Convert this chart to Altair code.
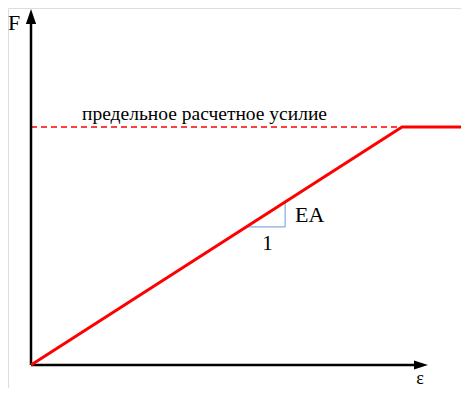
import altair as alt
import pandas as pd

# ---- data (schematic units: strain eps, force F) ----
eps_curve = [0.0, 1.0, 1.2]
F_curve = [0.0, 1.0, 1.0]
F_limit = 1.0
eps_limit = 1.0
limit_label = "предельное расчетное усилие"
slope_run = [0.58, 0.685]      # eps from -> to (horizontal leg)
slope_rise = [0.58, 0.685]     # F from -> to (vertical leg)
x_axis_end = 1.07
y_axis_end = 1.496
label_F = "F"
label_eps = "ε"
label_EA = "EA"
label_one = "1"

xs = alt.Scale(domain=[-0.062, 1.159], nice=False, zero=False)
ys = alt.Scale(domain=[-0.0966, 1.5], nice=False, zero=False)

def X(f="x"):
    return alt.X(f"{f}:Q", scale=xs, axis=None)

def Y(f="y"):
    return alt.Y(f"{f}:Q", scale=ys, axis=None)

SERIF = "Liberation Serif"

# axes
yaxis = alt.Chart(pd.DataFrame({"x": [0.0], "y": [0.0], "y2": [y_axis_end - 0.03]})).mark_rule(
    color="black", strokeWidth=2.5).encode(x=X(), y=Y(), y2="y2:Q")
xaxis = alt.Chart(pd.DataFrame({"x": [0.0], "x2": [x_axis_end - 0.02], "y": [0.0]})).mark_rule(
    color="black", strokeWidth=2.5).encode(x=X(), x2="x2:Q", y=Y())
yarrow = alt.Chart(pd.DataFrame({"x": [0.0], "y": [y_axis_end]})).mark_point(
    shape="M0,0L-0.68,2L0.68,2Z", size=225, filled=True, color="black", opacity=1, strokeWidth=0
).encode(x=X(), y=Y())
xarrow = alt.Chart(pd.DataFrame({"x": [x_axis_end], "y": [0.0]})).mark_point(
    shape="M0,0L-2,-0.64L-2,0.64Z", size=196, filled=True, color="black", opacity=1, strokeWidth=0
).encode(x=X(), y=Y())

# limit dashed line
dashed = alt.Chart(pd.DataFrame({"x": [0.0], "x2": [eps_limit], "y": [F_limit]})).mark_rule(
    color="#ff0000", strokeWidth=1.5, strokeDash=[6, 4]).encode(x=X(), x2="x2:Q", y=Y())

# curve
curve = alt.Chart(pd.DataFrame({"x": eps_curve, "y": F_curve})).mark_line(
    color="#ff0000", strokeWidth=3).encode(x=X(), y=Y())

# slope triangle
tri_h = alt.Chart(pd.DataFrame({"x": [slope_run[0]], "x2": [slope_run[1]], "y": [slope_rise[0]]})).mark_rule(
    color="#7fb0e0", strokeWidth=1.2).encode(x=X(), x2="x2:Q", y=Y())
tri_v = alt.Chart(pd.DataFrame({"x": [slope_run[1]], "y": [slope_rise[0]], "y2": [slope_rise[1]]})).mark_rule(
    color="#7fb0e0", strokeWidth=1.2).encode(x=X(), y=Y(), y2="y2:Q")

# texts
texts = pd.DataFrame({
    "x": [0.4677, 0.7116, 0.6375, -0.0458, 1.0485],
    "y": [1.029, 0.601, 0.483, 1.4076, -0.078],
    "t": [limit_label, label_EA, label_one, label_F, label_eps],
    "align": ["center", "left", "center", "center", "center"],
    "size": [19.5, 22, 21, 22, 18],
})
tlayers = []
for _, r in texts.iterrows():
    tlayers.append(
        alt.Chart(pd.DataFrame([r])).mark_text(
            font=SERIF, fontSize=float(r["size"]), align=r["align"], baseline="alphabetic", color="black"
        ).encode(x=X(), y=Y(), text="t:N")
    )

chart = alt.layer(dashed, yaxis, xaxis, yarrow, xarrow, tri_h, tri_v, curve, *tlayers).properties(
    width=453, height=380, padding=0, autosize=alt.AutoSizeParams(type="none")
).configure_view(stroke=None).configure(background="white")

chart.save("out.html", embed_options={"renderer": "svg", "actions": False})
